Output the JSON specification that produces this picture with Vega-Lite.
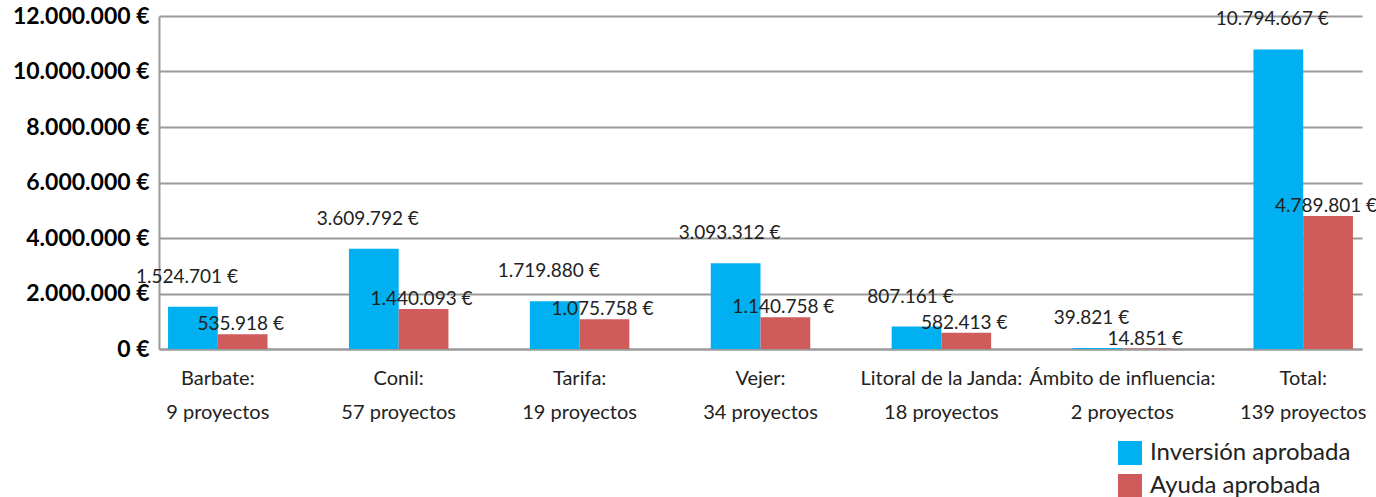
{
  "$schema": "https://vega.github.io/schema/vega-lite/v6.json",
  "width": 1203,
  "height": 333,
  "autosize": "none",
  "padding": {"left": 159, "top": 16, "right": 14, "bottom": 148},
  "config": {
    "locale": {"number": {"decimal": ",", "thousands": ".", "grouping": [3], "currency": ["", " €"]}},
    "view": {"stroke": null},
    "font": "Lato"
  },
  "data": {
    "values": [
      {"municipio": "Barbate:\n9 proyectos", "serie": "Inversión aprobada", "importe": 1524701},
      {"municipio": "Barbate:\n9 proyectos", "serie": "Ayuda aprobada", "importe": 535918},
      {"municipio": "Conil:\n57 proyectos", "serie": "Inversión aprobada", "importe": 3609792},
      {"municipio": "Conil:\n57 proyectos", "serie": "Ayuda aprobada", "importe": 1440093},
      {"municipio": "Tarifa:\n19 proyectos", "serie": "Inversión aprobada", "importe": 1719880},
      {"municipio": "Tarifa:\n19 proyectos", "serie": "Ayuda aprobada", "importe": 1075758},
      {"municipio": "Vejer:\n34 proyectos", "serie": "Inversión aprobada", "importe": 3093312},
      {"municipio": "Vejer:\n34 proyectos", "serie": "Ayuda aprobada", "importe": 1140758},
      {"municipio": "Litoral de la Janda:\n18 proyectos", "serie": "Inversión aprobada", "importe": 807161},
      {"municipio": "Litoral de la Janda:\n18 proyectos", "serie": "Ayuda aprobada", "importe": 582413},
      {"municipio": "Ámbito de influencia:\n2 proyectos", "serie": "Inversión aprobada", "importe": 39821},
      {"municipio": "Ámbito de influencia:\n2 proyectos", "serie": "Ayuda aprobada", "importe": 14851},
      {"municipio": "Total:\n139 proyectos", "serie": "Inversión aprobada", "importe": 10794667},
      {"municipio": "Total:\n139 proyectos", "serie": "Ayuda aprobada", "importe": 4789801}
    ]
  },
  "encoding": {
    "x": {
      "field": "municipio",
      "type": "nominal",
      "sort": null,
      "scale": {"paddingInner": 0.45, "paddingOuter": 0.05},
      "axis": {
        "title": null,
        "labelAngle": 0,
        "labelExpr": "split(datum.label, '\\n')",
        "labelFontSize": 20,
        "labelColor": "#222222",
        "labelLineHeight": 34,
        "labelPadding": 19,
        "labelLimit": 300,
        "ticks": false,
        "domainColor": "#9a9a9a",
        "domainWidth": 2
      }
    },
    "xOffset": {"field": "serie", "type": "nominal", "sort": ["Inversión aprobada", "Ayuda aprobada"]},
    "y": {
      "field": "importe",
      "type": "quantitative",
      "scale": {"domain": [0, 12000000], "nice": false},
      "axis": {
        "title": null,
        "values": [0, 2000000, 4000000, 6000000, 8000000, 10000000, 12000000],
        "format": "$,.0f",
        "labelFontSize": 23,
        "labelFontWeight": "bold",
        "labelColor": "#000000",
        "labelPadding": 10,
        "ticks": false,
        "grid": true,
        "gridColor": "#9a9a9a",
        "gridWidth": 2,
        "domain": true,
        "domainColor": "#9a9a9a",
        "domainWidth": 2
      }
    }
  },
  "layer": [
    {
      "mark": {"type": "bar"},
      "encoding": {
        "color": {
          "field": "serie",
          "type": "nominal",
          "scale": {"domain": ["Inversión aprobada", "Ayuda aprobada"], "range": ["#00B0F0", "#CF5B5B"]},
          "legend": {
            "title": null,
            "orient": "none",
            "legendX": 959,
            "legendY": 425,
            "symbolType": "square",
            "symbolSize": 576,
            "symbolStrokeWidth": 0,
            "labelFontSize": 24,
            "labelColor": "#222222",
            "labelLimit": 400,
            "rowPadding": 9,
            "labelOffset": 8
          }
        }
      }
    },
    {
      "transform": [{"filter": "datum.serie === 'Inversión aprobada'"}],
      "mark": {"type": "text", "dy": -30, "dx": -6, "fontSize": 19, "color": "#222222"},
      "encoding": {
        "text": {"field": "importe", "type": "quantitative", "format": "$,.0f"}
      }
    },
    {
      "transform": [{"filter": "datum.serie === 'Ayuda aprobada'"}],
      "mark": {"type": "text", "dy": -10, "dx": -2, "fontSize": 19, "color": "#222222"},
      "encoding": {
        "text": {"field": "importe", "type": "quantitative", "format": "$,.0f"}
      }
    }
  ]
}
